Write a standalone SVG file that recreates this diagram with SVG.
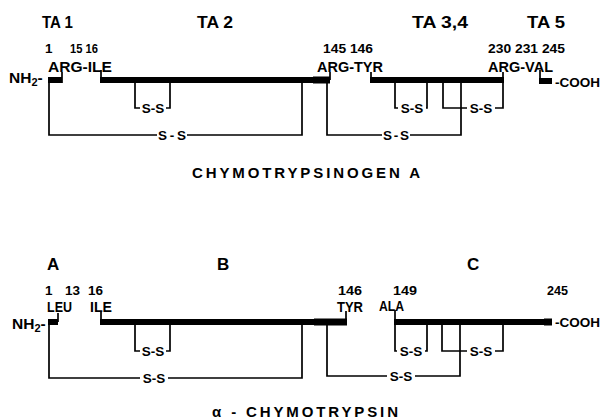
<svg xmlns="http://www.w3.org/2000/svg" width="603" height="420" viewBox="0 0 603 420">
<style>
text{font-family:"Liberation Sans",Arial,sans-serif;font-weight:bold;fill:#000}
.t{font-size:17px}
.n{font-size:13.5px}
.l{font-size:15.5px}
.c{font-size:13.5px}
.s{font-size:13.5px;text-anchor:middle}
.cap{font-size:15px}
.bar{fill:#000}
.ln{fill:none;stroke:#000;stroke-width:1.7}
</style>
<rect width="603" height="420" fill="#fff"/>

<g id="chymotrypsinogen">
  <g id="top-labels">
    <text class="t" x="42" y="28" textLength="31" lengthAdjust="spacingAndGlyphs">TA 1</text>
    <text class="t" x="197" y="28" textLength="36" lengthAdjust="spacingAndGlyphs">TA 2</text>
    <text class="t" x="412" y="28" textLength="56" lengthAdjust="spacingAndGlyphs">TA 3,4</text>
    <text class="t" x="527" y="28" textLength="38" lengthAdjust="spacingAndGlyphs">TA 5</text>
    <text class="n" x="45" y="53">1</text>
    <text class="n" x="70" y="53" textLength="28" lengthAdjust="spacingAndGlyphs">15 16</text>
    <text class="n" x="323" y="53" textLength="50" lengthAdjust="spacingAndGlyphs">145 146</text>
    <text class="n" x="488" y="53" textLength="77" lengthAdjust="spacingAndGlyphs">230 231 245</text>
    <text class="l" x="48" y="72" textLength="64" lengthAdjust="spacingAndGlyphs">ARG-ILE</text>
    <text class="l" x="317" y="72" textLength="66" lengthAdjust="spacingAndGlyphs">ARG-TYR</text>
    <text class="l" x="488" y="72" textLength="65" lengthAdjust="spacingAndGlyphs">ARG-VAL</text>
    <text class="l" x="9" y="83">NH<tspan font-size="11" dy="3">2</tspan><tspan dy="-3">-</tspan></text>
    <text class="c" x="555" y="87">-COOH</text>
    <text class="cap" x="192" y="178" textLength="228" lengthAdjust="spacing">CHYMOTRYPSINOGEN  A</text>
  </g>
  <g id="top-chain">
    <rect class="bar" x="48" y="77" width="14" height="6"/>
    <rect class="bar" x="100" y="77" width="214" height="6"/>
    <rect class="bar" x="313" y="76.5" width="17" height="7"/>
    <rect class="bar" x="370" y="77" width="134" height="6"/>
    <rect class="bar" x="539" y="78" width="13" height="6"/>
    <path class="ln" d="M62,83 V72 M101,80 V70 M330,80 V72 M371,80 V72 M503,80 V72 M540,80 V70"/>
  </g>
  <g id="top-connectors">
    <path class="ln" d="M49,83 V135 H157 M187,135 H302 V83"/>
    <text class="s" x="172" y="140" textLength="28" lengthAdjust="spacing">S-S</text>
    <path class="ln" d="M135,83 V108 H140 M166,108 H170 V83"/>
    <text class="s" x="153" y="113">S-S</text>
    <path class="ln" d="M327,83 V135 H382 M410,135 H461 V83"/>
    <text class="s" x="396" y="140" textLength="26" lengthAdjust="spacing">S-S</text>
    <path class="ln" d="M395,83 V108 H398 M426,108 H427 V83"/>
    <text class="s" x="412" y="113">S-S</text>
    <path class="ln" d="M443,83 V108 H467 M495,108 H503 V83"/>
    <text class="s" x="481" y="113">S-S</text>
  </g>
</g>

<g id="alpha-chymotrypsin">
  <g id="bottom-labels">
    <text class="t" x="47" y="270">A</text>
    <text class="t" x="217" y="270">B</text>
    <text class="t" x="467" y="270">C</text>
    <text class="n" x="45" y="295">1</text>
    <text class="n" x="65" y="295">13</text>
    <text class="n" x="88" y="295">16</text>
    <text class="n" x="338" y="295" textLength="24" lengthAdjust="spacingAndGlyphs">146</text>
    <text class="n" x="393" y="295" textLength="24" lengthAdjust="spacingAndGlyphs">149</text>
    <text class="n" x="547" y="295" textLength="21" lengthAdjust="spacingAndGlyphs">245</text>
    <text class="l" x="47" y="312" textLength="25" lengthAdjust="spacingAndGlyphs">LEU</text>
    <text class="l" x="90" y="312" textLength="22" lengthAdjust="spacingAndGlyphs">ILE</text>
    <text class="l" x="337" y="312" textLength="26" lengthAdjust="spacingAndGlyphs">TYR</text>
    <text class="l" x="379" y="311" textLength="25" lengthAdjust="spacingAndGlyphs">ALA</text>
    <text class="l" x="12" y="329">NH<tspan font-size="11" dy="3">2</tspan><tspan dy="-3">-</tspan></text>
    <text class="c" x="555" y="327">-COOH</text>
    <text class="cap" x="212" y="417" textLength="186" lengthAdjust="spacing">α - CHYMOTRYPSIN</text>
  </g>
  <g id="bottom-chain">
    <rect class="bar" x="48" y="319" width="10" height="6"/>
    <rect class="bar" x="100" y="319" width="215" height="6"/>
    <rect class="bar" x="314" y="318.5" width="33" height="7"/>
    <rect class="bar" x="394" y="319" width="152" height="6"/>
    <rect class="bar" x="544" y="318.5" width="8" height="7"/>
    <path class="ln" d="M58,322 V313 M101,322 V312 M346,322 V311 M395,322 V310"/>
  </g>
  <g id="bottom-connectors">
    <path class="ln" d="M49,325 V378 H140 M168,378 H302 V325"/>
    <text class="s" x="154" y="383">S-S</text>
    <path class="ln" d="M135,325 V351 H140 M166,351 H170 V325"/>
    <text class="s" x="153" y="356">S-S</text>
    <path class="ln" d="M327,325 V376 H387 M415,376 H460 V325"/>
    <text class="s" x="401" y="381">S-S</text>
    <path class="ln" d="M395,325 V351 H397 M425,351 H427 V325"/>
    <text class="s" x="411" y="356">S-S</text>
    <path class="ln" d="M442,325 V351 H467 M495,351 H503 V325"/>
    <text class="s" x="481" y="356">S-S</text>
  </g>
</g>
</svg>
